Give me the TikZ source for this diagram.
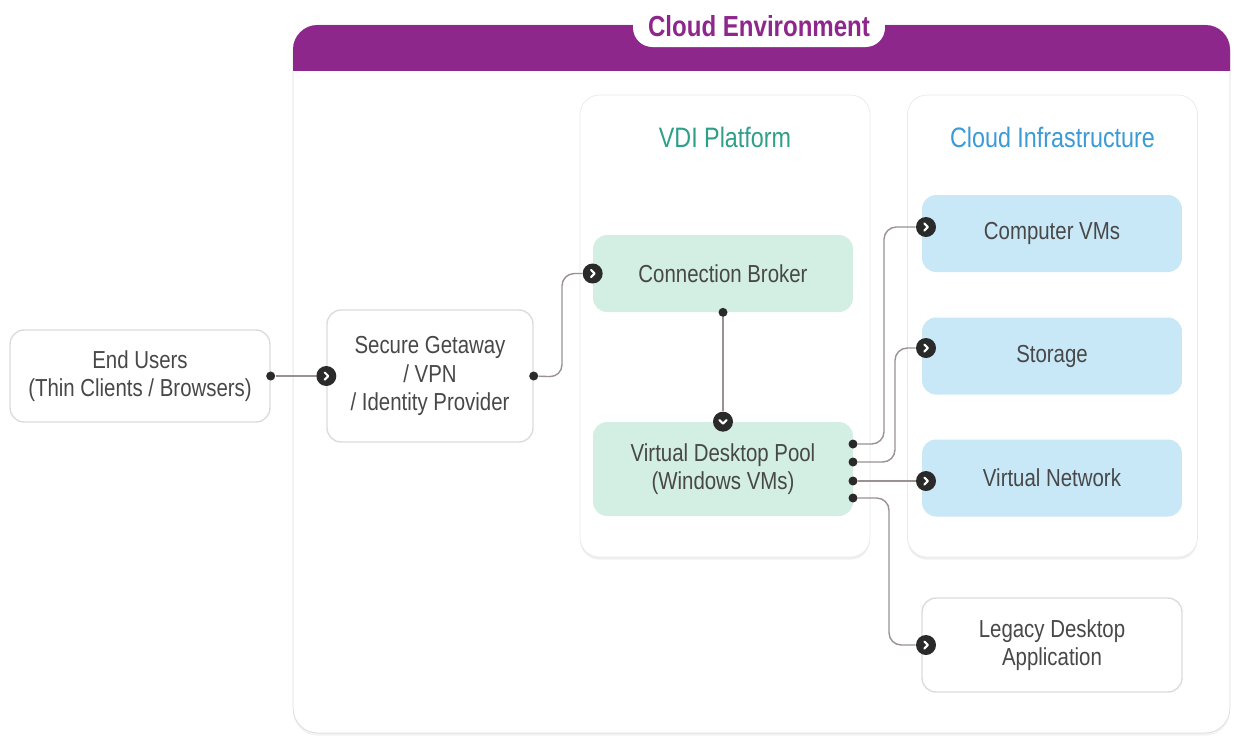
\documentclass[tikz,border=0pt]{standalone}
\usepackage{fontspec}
\setmainfont{Liberation Sans}[FakeStretch=0.83]
\usetikzlibrary{shadows}
\definecolor{cloudpurple}{HTML}{8E278C}
\definecolor{vditeal}{HTML}{2EA08A}
\definecolor{infrablue}{HTML}{3A9BD5}
\definecolor{mintfill}{HTML}{D3EEE3}
\definecolor{skyfill}{HTML}{C8E8F8}
\definecolor{textgray}{HTML}{484848}
\definecolor{wiregray}{HTML}{9A9292}
\definecolor{portdark}{HTML}{2A2A2A}
\definecolor{edgegray}{HTML}{DCDCDC}

\begin{document}
\begin{tikzpicture}[x=0.02cm,y=-0.02cm,
  every node/.style={text=textgray,font=\fontsize{14}{16}\selectfont},
  box/.style={rectangle,rounded corners=8pt,align=center,minimum width=5.2cm},
  white box/.style={box,draw=edgegray,line width=0.8pt,fill=white},
  vdi box/.style={box,fill=mintfill},
  infra box/.style={box,fill=skyfill,minimum height=1.54cm},
  panel/.style={rectangle,rounded corners=11pt,draw=edgegray!60,fill=white,
    minimum width=5.8cm,minimum height=9.24cm,
    drop shadow={shadow xshift=0pt,shadow yshift=-1.5pt,opacity=0.12}},
  panel title/.style={font=\fontsize{16}{18}\selectfont},
  dot/.style={circle,fill=portdark,inner sep=0pt,minimum size=0.18cm},
  port/.style={circle,fill=portdark,inner sep=0pt,minimum size=0.4cm},
  port right/.style={port,path picture={\draw[white,line width=1.2pt,line cap=round,line join=round]
    ([shift={(-0.9pt,2pt)}]path picture bounding box.center) -- ++(2pt,-2pt) -- ++(-2pt,-2pt);}},
  port down/.style={port,path picture={\draw[white,line width=1.2pt,line cap=round,line join=round]
    ([shift={(-2pt,0.9pt)}]path picture bounding box.center) -- ++(2pt,-2pt) -- ++(2pt,2pt);}},
  wire/.style={draw=wiregray,line width=0.8pt,rounded corners=7pt}]
  \useasboundingbox (0,0) rectangle (1234,738);

  % cloud environment frame
  \node[draw=edgegray,fill=white,rounded corners=14pt,minimum width=18.74cm,minimum height=14.16cm,
    drop shadow={shadow xshift=0pt,shadow yshift=-1.5pt,opacity=0.1}] (cloud) at (761.5,379) {};
  \begin{scope}
    \clip (280,20) rectangle (1240,70);
    \fill[cloudpurple,rounded corners=14pt] (293,25) rectangle (1230,110);
  \end{scope}
  \node[fill=white,rounded corners=11pt,minimum width=5.04cm,minimum height=0.84cm,text=cloudpurple,
    font=\bfseries\fontsize{16.5}{18}\selectfont] (envtitle) at (759,26) {Cloud Environment};

  \node[panel] (vdi) at (725,326) {};
  \node[panel title,text=vditeal] (vdititle) at (725,137) {VDI Platform};
  \node[panel] (infra) at (1052.5,326) {};
  \node[panel title,text=infrablue] (infratitle) at (1052.5,137) {Cloud Infrastructure};

  \node[white box,minimum height=1.84cm] (users) at (140,376) {End Users\\(Thin Clients / Browsers)};
  \node[white box,minimum width=4.12cm,minimum height=2.64cm] (gateway) at (430,376) {Secure Getaway\\/ VPN\\/ Identity Provider};
  \node[vdi box,minimum height=1.54cm] (broker) at (723,273.5) {Connection Broker};
  \node[vdi box,minimum height=1.88cm] (pool) at (723,469) {Virtual Desktop Pool\\(Windows VMs)};
  \node[infra box] (compute) at (1052,233.5) {Computer VMs};
  \node[infra box] (storage) at (1052,356) {Storage};
  \node[infra box] (vnet) at (1052,478) {Virtual Network};
  \node[white box,minimum height=1.88cm] (legacy) at (1052,645) {Legacy Desktop\\Application};

  % ports
  \node[dot] (usersout) at (users.east) {};
  \node[port right] (gatewayin) at (gateway.west) {};
  \node[dot] (gatewayout) at (gateway.east) {};
  \node[port right] (brokerin) at (broker.west) {};
  \node[dot] (brokerout) at (broker.south) {};
  \node[port down] (poolin) at (pool.north) {};
  \node[dot] (poolout1) at (853,444) {};
  \node[dot] (poolout2) at (853,462) {};
  \node[dot] (poolout3) at (853,481) {};
  \node[dot] (poolout4) at (853,498) {};
  \node[port right] (computein) at (926,227) {};
  \node[port right] (storagein) at (926,348) {};
  \node[port right] (vnetin) at (926,481) {};
  \node[port right] (legacyin) at (926,645) {};

  \draw[wire] (usersout) -- (gatewayin);
  \draw[wire] (gatewayout) -- (562,377) |- (brokerin);
  \draw[wire] (brokerout) -- (poolin);
  \draw[wire] (poolout1) -- (884,444) |- (computein);
  \draw[wire] (poolout2) -- (895,462) |- (storagein);
  \draw[wire] (poolout3) -- (vnetin);
  \draw[wire] (poolout4) -- (889,498) |- (legacyin);
\end{tikzpicture}
\end{document}
